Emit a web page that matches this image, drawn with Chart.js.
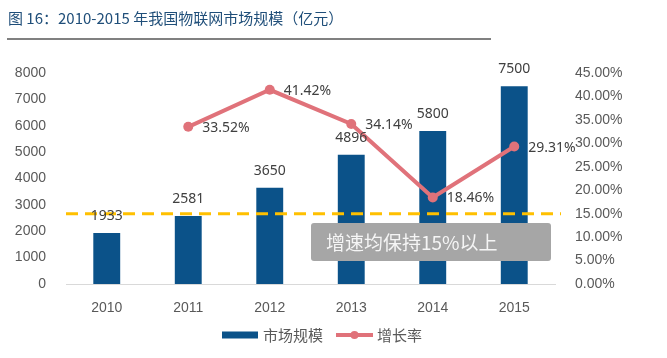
<!DOCTYPE html>
<html>
<head>
<meta charset="utf-8">
<script src="https://cdn.jsdelivr.net/npm/chart.js@4/dist/chart.umd.min.js"></script>
<style>
  body { margin: 0; background: #fff; }
  #wrap { position: relative; width: 667px; height: 358px; }
  #title {
    position: absolute; left: 8px; top: 7px;
    font: 15px "Noto Sans CJK SC", sans-serif; color: #1f4e79;
    white-space: nowrap;
  }
  #rule { position: absolute; left: 7px; top: 38px; width: 484px; height: 2px; background: #808080; }
  canvas { position: absolute; left: 0; top: 0; }
</style>
</head>
<body>
<div id="wrap">
  <canvas id="myChart" width="667" height="358"></canvas>
  <div id="title">图 16：2010-2015 年我国物联网市场规模（亿元）</div>
  <div id="rule"></div>
</div>
<script>
const years = ['2010', '2011', '2012', '2013', '2014', '2015'];
const marketSize = [1933, 2581, 3650, 4896, 5800, 7500];
const growthRate = [null, 33.52, 41.42, 34.14, 18.46, 29.31];
const threshold = 15;
const noteText = '增速均保持15%以上';

const barColor = '#0b5289';
const lineColor = '#e0727a';

// value labels, dashed 15% line and the grey note box
const extras = {
    id: 'extras',
    afterDatasetsDraw(chart) {
        const ctx = chart.ctx;
        const area = chart.chartArea;
        const y1 = chart.scales.y1;

        // dashed threshold line
        const ty = y1.getPixelForValue(threshold);
        ctx.save();
        ctx.strokeStyle = '#ffc000';
        ctx.lineWidth = 3;
        ctx.setLineDash([12, 7]);
        ctx.beginPath();
        ctx.moveTo(area.left, ty);
        ctx.lineTo(area.right + 6, ty);
        ctx.stroke();
        ctx.restore();

        // note box
        ctx.save();
        ctx.fillStyle = '#a6a6a6';
        ctx.beginPath();
        ctx.roundRect(311, 223, 240, 38, 3);
        ctx.fill();
        ctx.fillStyle = '#f5f5f5';
        ctx.font = '19px "Noto Sans CJK SC", sans-serif';
        ctx.textBaseline = 'middle';
        ctx.textAlign = 'left';
        ctx.fillText(noteText, 326, 243);
        ctx.restore();

        // labels
        ctx.save();
        ctx.font = '14px "Noto Sans", sans-serif';
        ctx.fillStyle = '#404040';
        ctx.textBaseline = 'middle';
        chart.getDatasetMeta(0).data.forEach((bar, i) => {
            ctx.textAlign = 'center';
            ctx.fillText(String(marketSize[i]), bar.x, bar.y - 17);
        });
        chart.getDatasetMeta(1).data.forEach((pt, i) => {
            if (growthRate[i] == null) return;
            ctx.textAlign = 'left';
            ctx.fillText(growthRate[i].toFixed(2) + '%', pt.x + 14, pt.y + 1);
        });
        ctx.restore();

        // legend
        ctx.save();
        ctx.font = '15px "Noto Sans CJK SC", sans-serif';
        ctx.textBaseline = 'middle';
        ctx.textAlign = 'left';
        const ly = 335;
        ctx.fillStyle = barColor;
        ctx.fillRect(222, ly - 3.5, 36, 7);
        ctx.fillStyle = '#595959';
        ctx.fillText(chart.data.datasets[0].label, 263, ly);
        ctx.strokeStyle = lineColor;
        ctx.lineWidth = 4;
        ctx.beginPath();
        ctx.moveTo(336, ly);
        ctx.lineTo(373, ly);
        ctx.stroke();
        ctx.fillStyle = lineColor;
        ctx.beginPath();
        ctx.arc(354.5, ly, 4, 0, Math.PI * 2);
        ctx.fill();
        ctx.fillStyle = '#595959';
        ctx.fillText(chart.data.datasets[1].label, 377, ly);
        ctx.restore();
    }
};

const ctx = document.getElementById('myChart').getContext('2d');
const myChart = new Chart(ctx, {
    type: 'bar',
    data: {
        labels: years,
        datasets: [
            {
                label: '市场规模',
                data: marketSize,
                backgroundColor: barColor,
                barPercentage: 0.33,
                categoryPercentage: 1,
                yAxisID: 'y',
                order: 1
            },
            {
                type: 'line',
                label: '增长率',
                data: growthRate,
                borderColor: lineColor,
                backgroundColor: lineColor,
                borderWidth: 4,
                pointRadius: 5,
                pointBackgroundColor: lineColor,
                pointBorderWidth: 0,
                tension: 0,
                yAxisID: 'y1',
                order: 0
            }
        ]
    },
    options: {
        responsive: false,
        animation: false,
        layout: {
            padding: { top: 73, bottom: 0, left: 0, right: 0 }
        },
        plugins: {
            legend: { display: false },
            title: { display: false },
            tooltip: { enabled: false }
        },
        scales: {
            x: {
                grid: { display: false },
                border: { color: '#d9d9d9', width: 1 },
                ticks: {
                    color: '#595959',
                    font: { family: '"Liberation Sans", Arial, sans-serif', size: 14 },
                    padding: 8
                },
                afterFit: (scale) => { scale.height = 74; }
            },
            y: {
                position: 'left',
                min: 0,
                max: 8000,
                grid: { display: false },
                border: { display: false },
                ticks: {
                    stepSize: 1000,
                    color: '#595959',
                    font: { family: '"Liberation Sans", Arial, sans-serif', size: 14 },
                    padding: 12,
                    callback: (v) => String(v)
                },
                afterFit: (scale) => { scale.width = 66; }
            },
            y1: {
                position: 'right',
                min: 0,
                max: 45,
                grid: { display: false },
                border: { display: false },
                ticks: {
                    stepSize: 5,
                    color: '#595959',
                    font: { family: '"Liberation Sans", Arial, sans-serif', size: 14 },
                    padding: 12,
                    callback: (v) => v.toFixed(2) + '%'
                },
                afterFit: (scale) => { scale.width = 112; }
            }
        }
    },
    plugins: [extras]
});
</script>
</body>
</html>
